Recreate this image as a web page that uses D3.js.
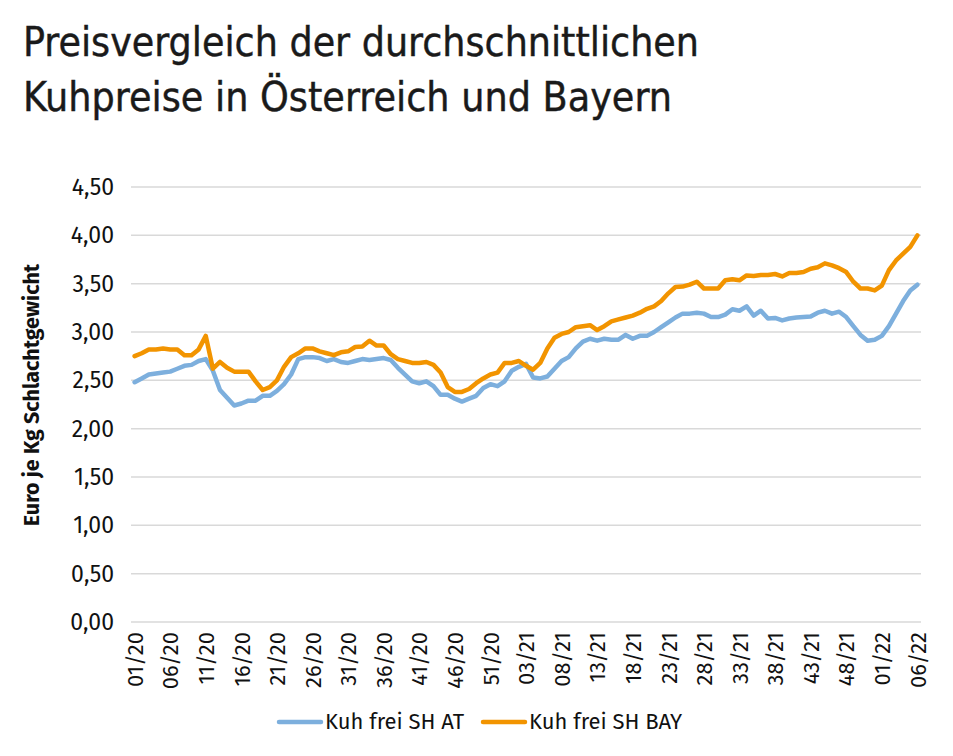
<!DOCTYPE html>
<html>
<head>
<meta charset="utf-8">
<script src="https://cdn.jsdelivr.net/npm/d3@7"></script>
<style>
  body { margin: 0; background: #fff; }
</style>
</head>
<body>
<script>
// Wochen je Jahr (KW 01/20 bis 06/22)
var years = ["20", "21", "22"];
var weeksInYear = [53, 52, 6];

var yTicks = [0, 0.5, 1, 1.5, 2, 2.5, 3, 3.5, 4, 4.5];

var seriesNames = ["Kuh frei SH AT", "Kuh frei SH BAY"];

var priceAT = [
  2.48, 2.52, 2.56, 2.57, 2.58, 2.59, 2.62, 2.65, 2.66, 2.70,
  2.72, 2.60, 2.40, 2.32, 2.24, 2.26, 2.29, 2.29, 2.34, 2.34,
  2.39, 2.46, 2.56, 2.72, 2.74, 2.74, 2.73, 2.70, 2.72, 2.69,
  2.68, 2.70, 2.72, 2.71, 2.72, 2.73, 2.71, 2.63, 2.56, 2.49,
  2.47, 2.49, 2.44, 2.35, 2.35, 2.31, 2.28, 2.31, 2.34, 2.42,
  2.46, 2.44, 2.49, 2.60, 2.64, 2.67, 2.53, 2.52, 2.54, 2.62,
  2.70, 2.74, 2.83, 2.90, 2.93, 2.91, 2.93, 2.92, 2.92, 2.97,
  2.93, 2.96, 2.96, 3.00, 3.05, 3.10, 3.15, 3.19, 3.19, 3.20,
  3.19, 3.155, 3.155, 3.18, 3.235, 3.22, 3.265, 3.17, 3.22, 3.14,
  3.145, 3.12, 3.14, 3.15, 3.155, 3.16, 3.20, 3.22, 3.19, 3.21,
  3.155, 3.06, 2.97, 2.91, 2.92, 2.96, 3.06, 3.19, 3.32, 3.43,
  3.49
];

var priceBAY = [
  2.75, 2.78, 2.82, 2.82, 2.83, 2.82, 2.82, 2.76, 2.76, 2.82,
  2.96, 2.62, 2.69, 2.63, 2.59, 2.59, 2.59, 2.49, 2.40, 2.43,
  2.50, 2.64, 2.74, 2.78, 2.83, 2.83, 2.80, 2.78, 2.76, 2.79,
  2.80, 2.845, 2.85, 2.91, 2.86, 2.86, 2.77, 2.72, 2.70, 2.68,
  2.68, 2.69, 2.66, 2.58, 2.43, 2.38, 2.38, 2.41, 2.47, 2.52,
  2.56, 2.58, 2.68, 2.68, 2.70, 2.65, 2.61, 2.68, 2.83, 2.94,
  2.98, 3.00, 3.05, 3.06, 3.07, 3.02, 3.06, 3.11, 3.13, 3.15,
  3.17, 3.20, 3.24, 3.265, 3.32, 3.40, 3.465, 3.47, 3.49, 3.52,
  3.45, 3.45, 3.45, 3.535, 3.545, 3.535, 3.585, 3.58, 3.59, 3.59,
  3.60, 3.575, 3.61, 3.61, 3.62, 3.655, 3.67, 3.71, 3.69, 3.66,
  3.62, 3.52, 3.45, 3.45, 3.43, 3.48, 3.64, 3.74, 3.81, 3.88,
  4.00
];

var colors = ["#7dafdd", "#f29400"];

function draw_chart() {

  var weeks = [];
  years.forEach(function(y, k) {
    for (var w = 1; w <= weeksInYear[k]; w++) {
      weeks.push((w < 10 ? "0" + w : "" + w) + "/" + y);
    }
  });
  // jede fünfte Woche beschriftet
  var shownTicks = weeks.filter(function(d, i) { return i % 5 === 0; });

  var svg = d3.select("body")
    .append("svg")
      .attr("width", 953)
      .attr("height", 756);

  var font = "'Fira Sans', 'Open Sans', 'Noto Sans', sans-serif";

  var title = svg.append("text")
    .attr("font-family", "'DejaVu Sans Condensed', 'Liberation Sans Narrow', sans-serif")
    .attr("font-size", 40)
    .attr("fill", "#1a1a1a")
    .attr("stroke", "#1a1a1a")
    .attr("stroke-width", 0.4);
  title.append("tspan")
    .attr("x", 23).attr("y", 56)
    .attr("textLength", 676).attr("lengthAdjust", "spacingAndGlyphs")
    .text("Preisvergleich der durchschnittlichen");
  title.append("tspan")
    .attr("x", 23).attr("y", 110.5)
    .attr("textLength", 649).attr("lengthAdjust", "spacingAndGlyphs")
    .text("Kuhpreise in Österreich und Bayern");

  var x = d3.scalePoint()
    .domain(weeks)
    .range([134.6, 917.4]);

  var y = d3.scaleLinear()
    .domain([0, 4.5])
    .range([622, 187]);

  var grid = svg.append("g");
  grid.selectAll("line")
    .data(yTicks)
    .enter()
    .append("line")
      .attr("x1", 131)
      .attr("x2", 921)
      .attr("y1", function(d) { return y(d); })
      .attr("y2", function(d) { return y(d); })
      .attr("stroke", "#d9d9d9")
      .attr("stroke-width", 1.5);

  var yAxis = svg.append("g")
    .attr("transform", "translate(121,0)")
    .call(d3.axisLeft(y)
      .tickValues(yTicks)
      .tickSize(0)
      .tickPadding(7)
      .tickFormat(function(d) { return d3.format(".2f")(d).replace(".", ","); }));
  yAxis.select(".domain").remove();
  yAxis.selectAll("text")
    .attr("font-family", font)
    .attr("font-size", 23)
    .attr("fill", "#111");

  var xAxis = svg.append("g")
    .attr("transform", "translate(0,622)")
    .call(d3.axisBottom(x)
      .tickValues(shownTicks)
      .tickSize(0));
  xAxis.select(".domain").remove();
  xAxis.selectAll("text")
    .attr("font-family", font)
    .attr("font-size", 22)
    .attr("fill", "#111")
    .attr("text-anchor", "end")
    .attr("dy", "0.35em")
    .attr("transform", "translate(0,10) rotate(-90)")
    .attr("x", 0)
    .attr("y", 0);

  svg.append("text")
    .attr("transform", "translate(39,395) rotate(-90)")
    .attr("text-anchor", "middle")
    .attr("font-family", font)
    .attr("font-size", 21.5)
    .attr("font-weight", "bold")
    .attr("fill", "#111")
    .text("Euro je Kg Schlachtgewicht");

  var line = d3.line()
    .x(function(d, i) { return x(weeks[i]); })
    .y(function(d) { return y(d); });

  [priceAT, priceBAY].forEach(function(s, k) {
    svg.append("path")
      .datum(s)
      .attr("d", line)
      .attr("fill", "none")
      .attr("stroke", colors[k])
      .attr("stroke-width", 4.5)
      .attr("stroke-linejoin", "round")
      .attr("stroke-linecap", "round");
  });

  var legendX = [279, 483];
  seriesNames.forEach(function(name, k) {
    var g = svg.append("g").attr("transform", "translate(" + legendX[k] + ",722)");
    g.append("line")
      .attr("x1", 0)
      .attr("x2", 42)
      .attr("stroke", colors[k])
      .attr("stroke-width", 4.5)
      .attr("stroke-linecap", "round");
    g.append("text")
      .attr("x", 46)
      .attr("y", 7)
      .attr("font-family", font)
      .attr("font-size", 22)
      .attr("fill", "#111")
      .text(name);
  });
}

draw_chart();
</script>
</body>
</html>
